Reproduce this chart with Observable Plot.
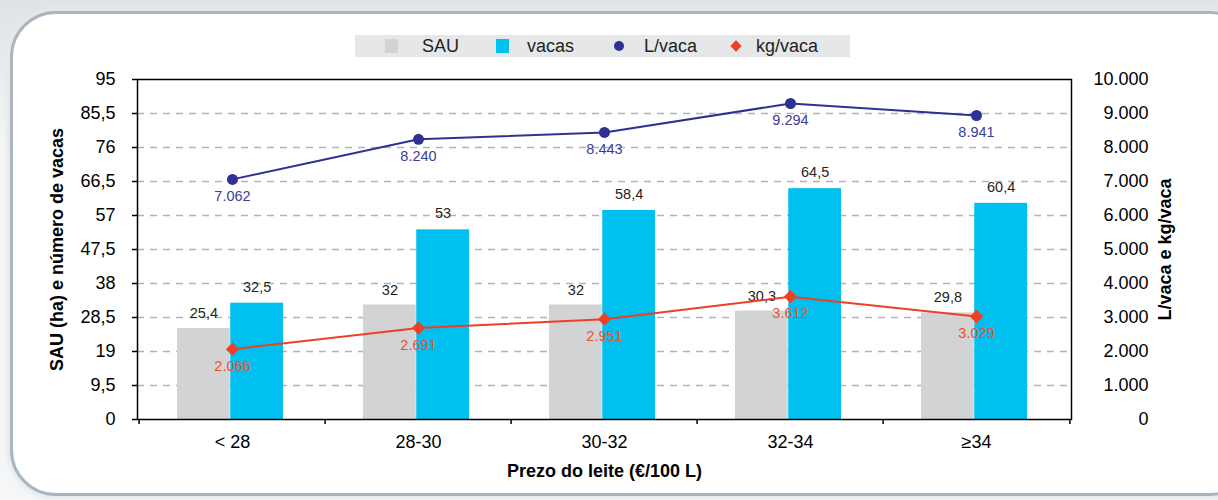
<!DOCTYPE html>
<html><head><meta charset="utf-8">
<script src="https://cdn.jsdelivr.net/npm/d3@7"></script>
<script src="https://cdn.jsdelivr.net/npm/@observablehq/plot@0.6"></script>
<style>
body{margin:0;background:#fff;overflow:hidden;font-family:"Liberation Sans",Arial,Helvetica,sans-serif;}
#wrap{position:relative;width:1218px;height:500px;overflow:hidden;background:linear-gradient(#dfe3e7,#f4f6f7 30%,#f4f6f7);}
#box{position:absolute;left:10px;top:11px;width:1240px;height:479px;border:3px solid #a9b6c2;border-radius:46px;background:#fff;box-shadow:0 0 5px 3px #e4e8eb;}
#legend{position:relative;height:60px;z-index:1;}
#lg{position:absolute;top:35px;left:355px;width:495px;height:22px;background:#e6e7e8;}
.it{position:absolute;font-size:18px;line-height:22px;top:0;color:#231f20;}
.sq{position:absolute;top:4px;width:13px;height:14px;}
.ci{position:absolute;top:6px;width:10px;height:10px;border-radius:50%;background:#2e3192;}
.di{position:absolute;top:7px;width:8px;height:8px;transform:rotate(45deg);background:#ee4023;}
#chart{position:relative;z-index:1;}
</style></head>
<body>
<div id="wrap">
<div id="box"></div>
<div id="legend"><div id="lg">
 <div class="sq" style="left:30px;background:#d1d3d4"></div><div class="it" style="left:67px">SAU</div>
 <div class="sq" style="left:141px;background:#00c0ef"></div><div class="it" style="left:172px">vacas</div>
 <div class="ci" style="left:259px"></div><div class="it" style="left:289px">L/vaca</div>
 <div class="di" style="left:377px"></div><div class="it" style="left:401px">kg/vaca</div>
</div></div>
<div id="chart"></div>
</div>
<script>
const categorias = ["< 28", "28-30", "30-32", "32-34", "≥34"];
const sau = [25.4, 32, 32, 30.3, 29.8];
const vacas = [32.5, 53, 58.4, 64.5, 60.4];
const litrosVaca = [7062, 8240, 8443, 9294, 8941];
const kgVaca = [2066, 2691, 2951, 3612, 3029];
const leftTicks = [0, 9.5, 19, 28.5, 38, 47.5, 57, 66.5, 76, 85.5, 95];
const rightTicks = [0, 1000, 2000, 3000, 4000, 5000, 6000, 7000, 8000, 9000, 10000];

const k = 95 / 10000; // right axis (0–10.000) mapped onto left axis (0–95)
const data = categorias.map((c, i) => ({cat: c, sau: sau[i], vacas: vacas[i], l: litrosVaca[i], kg: kgVaca[i]}));
const pt = d3.formatLocale({decimal: ",", thousands: ".", grouping: [3], currency: ["", "€"]});
const fDec = d => String(d).replace(".", ",");
const fThou = pt.format(",d");

const W = 1218, H = 440, mL = 137, mR = 147, mT = 19, mB = 81;
const step = (W - mL - mR) / categorias.length;
const pIn = 0.43;
const bw = step * (1 - pIn);
const half = bw / 2;

const plot = Plot.plot({
  width: W, height: H,
  marginLeft: mL, marginRight: mR, marginTop: mT, marginBottom: mB,
  style: {background: "transparent", fontFamily: "Liberation Sans, Arial, sans-serif", color: "#000"},
  x: {domain: categorias, paddingInner: pIn, paddingOuter: pIn / 2, axis: null},
  y: {domain: [0, 95], axis: null},
  marks: [
    Plot.ruleY(leftTicks.slice(1, -1), {stroke: "#b3b3b3", strokeWidth: 1.5, strokeDasharray: "7,6"}),
    Plot.barY(data, {x: "cat", y: "sau", fill: "#d1d3d4", insetRight: half, dx: -2}),
    Plot.barY(data, {x: "cat", y: "vacas", fill: "#00c0ef", insetLeft: half, dx: -2}),
    Plot.frame({stroke: "#000", strokeWidth: 1.5}),
    Plot.text(data, {x: "cat", y: "sau", text: d => fDec(d.sau), dx: -half / 2 - 2, dy: -15, fontSize: 14.5, fill: "#231f20"}),
    Plot.text(data, {x: "cat", y: "vacas", text: d => fDec(d.vacas), dx: half / 2 - 2, dy: -16, fontSize: 14.5, fill: "#231f20"}),
    Plot.line(data, {x: "cat", y: d => d.l * k, stroke: "#2e3192", strokeWidth: 2}),
    Plot.dot(data, {x: "cat", y: d => d.l * k, r: 5.5, fill: "#2e3192", stroke: "none"}),
    Plot.text(data, {x: "cat", y: d => d.l * k, text: d => fThou(d.l), dy: 17, fontSize: 14.5, fill: "#3b3d96"}),
    Plot.line(data, {x: "cat", y: d => d.kg * k, stroke: "#ee4023", strokeWidth: 2}),
    Plot.dot(data, {x: "cat", y: d => d.kg * k, r: 6, symbol: "diamond2", fill: "#ee4023", stroke: "none"}),
    Plot.text(data, {x: "cat", y: d => d.kg * k, text: d => fThou(d.kg), dy: 17, fontSize: 14.5, fill: "#ef5030"}),
    Plot.axisY({ticks: leftTicks, tickFormat: fDec, tickSize: 5, tickPadding: 17, fontSize: 18, label: null, stroke: "#000", strokeWidth: 1.5}),
    Plot.axisY({anchor: "right", ticks: rightTicks.map(v => v * k), tickFormat: d => fThou(Math.round(d / k)), tickSize: 0, tickPadding: 3, textAnchor: "end", dx: 74, fontSize: 18, label: null}),
    Plot.axisX({tickSize: 0, tickPadding: 16, fontSize: 18, label: null}),
    Plot.axisX({ticks: categorias, tickSize: 5, tickFormat: () => "", dx: -step / 2, label: null, strokeWidth: 1.5}),
    Plot.axisX({ticks: [categorias[categorias.length - 1]], tickSize: 5, tickFormat: () => "", dx: step / 2, label: null, strokeWidth: 1.5}),
    Plot.text(["SAU (ha) e número de vacas"], {frameAnchor: "left", textAnchor: "middle", dx: -80, rotate: -90, fontWeight: "bold", fontSize: 18, fill: "#000"}),
    Plot.text(["L/vaca e kg/vaca"], {frameAnchor: "right", textAnchor: "middle", dx: 94, rotate: -90, fontWeight: "bold", fontSize: 18, fill: "#000"}),
    Plot.text(["Prezo do leite (€/100 L)"], {frameAnchor: "bottom", dy: 57, fontWeight: "bold", fontSize: 18, fill: "#000"})
  ]
});
document.getElementById("chart").appendChild(plot);
</script>
</body></html>
